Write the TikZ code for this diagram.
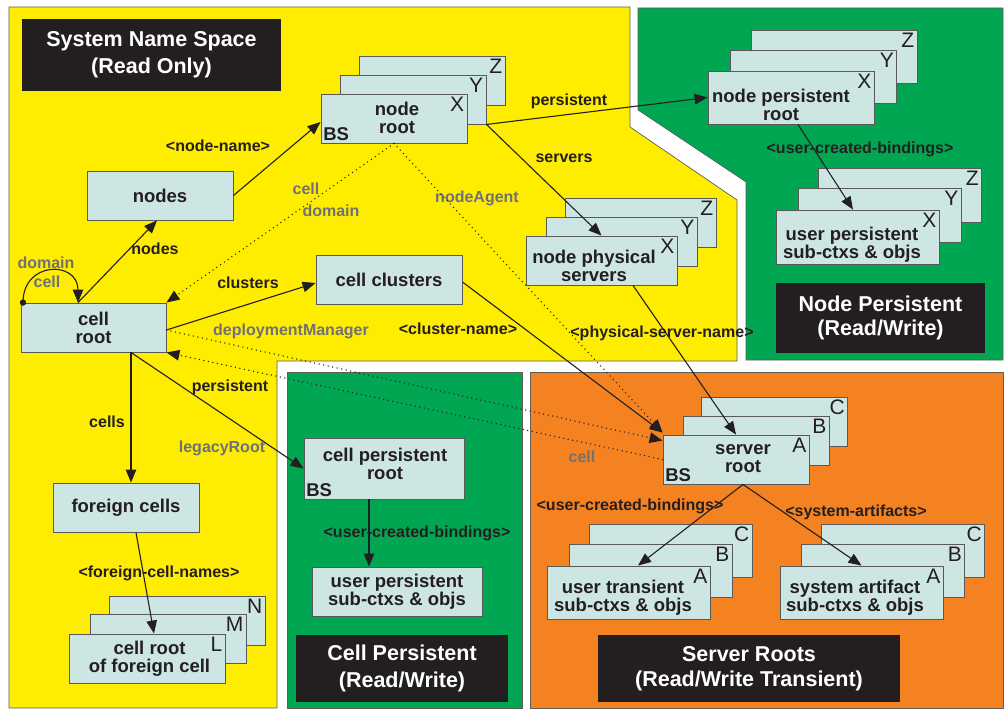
\documentclass[tikz,border=0pt]{standalone}
\usepackage{fontspec}
\setmainfont{Liberation Sans}
\usetikzlibrary{arrows.meta}
\definecolor{yellowc}{RGB}{255,237,0}
\definecolor{greenc}{RGB}{0,166,81}
\definecolor{orangec}{RGB}{245,130,32}
\definecolor{boxfill}{RGB}{206,230,227}
\definecolor{boxline}{RGB}{88,89,91}
\definecolor{titlebg}{RGB}{35,31,32}
\definecolor{txt}{RGB}{35,31,32}
\definecolor{graytxt}{RGB}{112,112,118}
\definecolor{regline}{RGB}{95,95,85}
\tikzset{
  box/.style={draw=boxline, fill=boxfill, line width=0.9pt, inner sep=0pt},
  ntext/.style={font=\fontsize{18.5}{18}\selectfont\bfseries, align=center, text=txt, inner sep=0pt},
  elab/.style={font=\fontsize{16}{18}\selectfont\bfseries, text=txt, inner sep=0pt},
  glab/.style={elab, text=graytxt},
  stackletter/.style={font=\fontsize{21}{21}\selectfont, text=txt, inner sep=3pt, anchor=north east},
  bslabel/.style={font=\fontsize{18.5}{18}\selectfont\bfseries, text=txt, inner sep=2.5pt, anchor=south west},
  titlebox/.style={fill=titlebg, text=white, align=center, inner sep=0pt},
  region/.style={draw=regline, line width=0.7pt},
  edge/.style={line width=1.1pt, draw=txt, -{Triangle[length=13pt,width=10.5pt]}},
  dotedge/.style={edge, line width=1.5pt, line cap=round, dash pattern=on 0pt off 4.6pt}
}
\begin{document}
\begin{tikzpicture}[x=1pt,y=-1pt]
\useasboundingbox (0,0) rectangle (1004,709);
\fill[white] (0,0) rectangle (1004,709);
% regions
\filldraw[region, fill=yellowc] (9,7) -- (630,7) -- (630,127) -- (737,200) -- (737,361) -- (277,361) -- (277,708) -- (9,708) -- cycle;
\filldraw[region, fill=greenc] (638,8) -- (1003,8) -- (1003,360) -- (746,360) -- (746,182) -- (638,110) -- cycle;
\filldraw[region, fill=orangec] (530,372) -- (1003,372) -- (1003,708) -- (530,708) -- cycle;
\filldraw[region, fill=greenc] (287,372) -- (522,372) -- (522,708) -- (287,708) -- cycle;
% title boxes
\node[titlebox, minimum width=259pt, minimum height=72pt, font=\fontsize{21.5}{27}\selectfont\bfseries] (sns) at (151.5,55) {System Name Space\\(Read Only)};
\node[titlebox, minimum width=209pt, minimum height=70pt, font=\fontsize{21.5}{24}\selectfont\bfseries] (npt) at (880.5,318) {Node Persistent\\(Read/Write)};
\node[titlebox, minimum width=212pt, minimum height=67pt, font=\fontsize{21.5}{27}\selectfont\bfseries] (cpt) at (402,668.5) {Cell Persistent\\(Read/Write)};
\node[titlebox, minimum width=302pt, minimum height=67pt, font=\fontsize{21.5}{25}\selectfont\bfseries] (srt) at (749,668.5) {Server Roots\\(Read/Write Transient)};
% single boxes
\node[box, ntext, minimum width=146pt, minimum height=49pt] (nodes) at (160,195.5) {nodes};
\node[box, ntext, minimum width=145pt, minimum height=49pt] (cellroot) at (93.5,327.5) {cell\\root};
\node[box, ntext, minimum width=146pt, minimum height=49pt] (cc) at (389,279.5) {cell clusters};
\node[box, ntext, minimum width=146pt, minimum height=49pt] (fc) at (126,507.5) {foreign cells};
\node[box, minimum width=160pt, minimum height=61pt] (cpr) at (384,468.5) {};
\node[ntext] at (385,464) {cell persistent\\root};
\node[bslabel] at (cpr.south west) {BS};
\node[box, ntext, minimum width=170pt, minimum height=49pt] (upc) at (397,591.5) {user persistent\\sub-ctxs \& objs};
% node root stack
\node[box, minimum width=146pt, minimum height=49pt] (nrZ) at (432,81) {};
\node[stackletter] at (nrZ.north east) {Z};
\node[box, minimum width=146pt, minimum height=49pt] (nrY) at (413,99.5) {};
\node[stackletter] at (nrY.north east) {Y};
\node[box, minimum width=146pt, minimum height=49pt] (nrX) at (394,118.5) {};
\node[stackletter] at (nrX.north east) {X};
\node[ntext] at (397,118) {node\\root};
\node[bslabel] at (nrX.south west) {BS};
% node physical servers stack
\node[box, minimum width=151pt, minimum height=49pt] (npsZ) at (640.5,222.5) {};
\node[stackletter] at (npsZ.north east) {Z};
\node[box, minimum width=151pt, minimum height=49pt] (npsY) at (621.5,241.5) {};
\node[stackletter] at (npsY.north east) {Y};
\node[box, minimum width=151pt, minimum height=49pt] (npsX) at (601.5,260.5) {};
\node[stackletter] at (npsX.north east) {X};
\node[ntext] at (594,265.5) {node physical\\servers};
% node persistent root stack
\node[box, minimum width=166pt, minimum height=53pt] (nprZ) at (834,57) {};
\node[stackletter] at (nprZ.north east) {Z};
\node[box, minimum width=166pt, minimum height=53pt] (nprY) at (813.5,76.5) {};
\node[stackletter] at (nprY.north east) {Y};
\node[box, minimum width=166pt, minimum height=53pt] (nprX) at (791,97.5) {};
\node[stackletter] at (nprX.north east) {X};
\node[ntext] at (781,105) {node persistent\\root};
% user persistent (node) stack
\node[box, minimum width=163pt, minimum height=54pt] (upnZ) at (900,195) {};
\node[stackletter] at (upnZ.north east) {Z};
\node[box, minimum width=163pt, minimum height=54pt] (upnY) at (879.5,215) {};
\node[stackletter] at (upnY.north east) {Y};
\node[box, minimum width=163pt, minimum height=54pt] (upnX) at (857.5,237) {};
\node[stackletter] at (upnX.north east) {X};
\node[ntext] at (852,245) {user persistent\\sub-ctxs \& objs};
% server root stack
\node[box, minimum width=146pt, minimum height=49pt] (srC) at (774.5,422) {};
\node[stackletter] at (srC.north east) {C};
\node[box, minimum width=146pt, minimum height=49pt] (srB) at (756,440.5) {};
\node[stackletter] at (srB.north east) {B};
\node[box, minimum width=146pt, minimum height=49pt] (srA) at (736,459.5) {};
\node[stackletter] at (srA.north east) {A};
\node[ntext] at (743,459) {server\\root};
\node[bslabel] at (srA.south west) {BS};
% user transient stack
\node[box, minimum width=163pt, minimum height=53pt] (utC) at (670.5,551) {};
\node[stackletter] at (utC.north east) {C};
\node[box, minimum width=163pt, minimum height=53pt] (utB) at (650.5,571) {};
\node[stackletter] at (utB.north east) {B};
\node[box, minimum width=163pt, minimum height=53pt] (utA) at (628.5,592.5) {};
\node[stackletter] at (utA.north east) {A};
\node[ntext] at (623,598) {user transient\\sub-ctxs \& objs};
% system artifact stack
\node[box, minimum width=163pt, minimum height=53pt] (saC) at (903,551) {};
\node[stackletter] at (saC.north east) {C};
\node[box, minimum width=163pt, minimum height=53pt] (saB) at (883,571) {};
\node[stackletter] at (saB.north east) {B};
\node[box, minimum width=163pt, minimum height=53pt] (saA) at (861.5,592.5) {};
\node[stackletter] at (saA.north east) {A};
\node[ntext] at (855,598) {system artifact\\sub-ctxs \& objs};
% cell root of foreign cell stack
\node[box, minimum width=156pt, minimum height=49pt] (crfN) at (187,620.5) {};
\node[stackletter] at (crfN.north east) {N};
\node[box, minimum width=156pt, minimum height=49pt] (crfM) at (168,638.5) {};
\node[stackletter] at (crfM.north east) {M};
\node[box, minimum width=156pt, minimum height=49pt] (crfL) at (147,658.5) {};
\node[stackletter] at (crfL.north east) {L};
\node[ntext] at (149.5,659) {cell root\\of foreign cell};
% labels
\node[elab] at (218,146) {<node-name>};
\node[elab] at (155,249) {nodes};
\node[glab] at (46,263) {domain};
\node[glab] at (47,282) {cell};
\node[glab] at (306,189) {cell};
\node[glab] at (331,211) {domain};
\node[glab] at (477,198) {nodeAgent};
\node[elab] at (569,101) {persistent};
\node[elab] at (564,158) {servers};
\node[elab] at (860,149) {<user-created-bindings>};
\node[elab] at (248,283) {clusters};
\node[glab] at (291,331) {deploymentManager};
\node[elab] at (458,329) {<cluster-name>};
\node[elab] at (662,333) {<physical-server-name>};
\node[elab] at (107,422) {cells};
\node[elab] at (230,387) {persistent};
\node[glab] at (222,448) {legacyRoot};
\node[elab] at (417,533) {<user-created-bindings>};
\node[elab] at (159,573) {<foreign-cell-names>};
\node[glab] at (582,457) {cell};
\node[elab] at (630,506) {<user-created-bindings>};
\node[elab] at (856,512) {<system-artifacts>};
% edges
\draw[edge] (nodes.east) -- ([shift={(0,3.5)}]nrX.west);
\draw[edge] ([shift={(-15.5,0)}]cellroot.north) -- ([shift={(-3,0)}]nodes.south);
\fill[txt] ([shift={(-70.5,0)}]cellroot.north) circle (3.2pt);
\draw[edge] ([shift={(-70.5,0)}]cellroot.north) .. controls +(0,-42) and +(0,-42) .. ([shift={(-15.5,0)}]cellroot.north);
\draw[dotedge] (nrX.south) -- (cellroot.north east);
\draw[dotedge] (nrX.south) -- ([shift={(0,-2)}]srA.north west);
\draw[edge] (nrY.south east) -- (nprX.west);
\draw[edge] (nrY.south east) -- (npsX.north);
\draw[edge] ([shift={(7,0)}]nprX.south) -- ([shift={(-4.5,0)}]upnX.north);
\draw[edge] ([shift={(0,2.5)}]cellroot.east) -- ([shift={(0,3.5)}]cc.west);
\draw[dotedge] ([shift={(0,2.5)}]cellroot.east) -- ([shift={(0,6)}]srA.north west);
\draw[edge] ([shift={(0,2.5)}]cc.east) -- ([shift={(0,-2)}]srA.north west);
\draw[edge] ([shift={(31.5,0)}]npsX.south) -- (srA.north);
\draw[dotedge] ([shift={(0,25)}]srA.north west) -- (cellroot.south east);
\draw[edge] ([shift={(37.5,0)}]cellroot.south) -- ([shift={(5,0)}]fc.north);
\draw[edge] ([shift={(37.5,0)}]cellroot.south) -- (cpr.west);
\draw[edge] ([shift={(-15,0)}]cpr.south) -- ([shift={(-28,0)}]upc.north);
\draw[edge] ([shift={(10,0)}]fc.south) -- ([shift={(7,0)}]crfL.north);
\draw[edge] ([shift={(7,0)}]srA.south) -- ([shift={(9.5,0)}]utA.north);
\draw[edge] ([shift={(7,0)}]srA.south) -- (saA.north);
\end{tikzpicture}
\end{document}
